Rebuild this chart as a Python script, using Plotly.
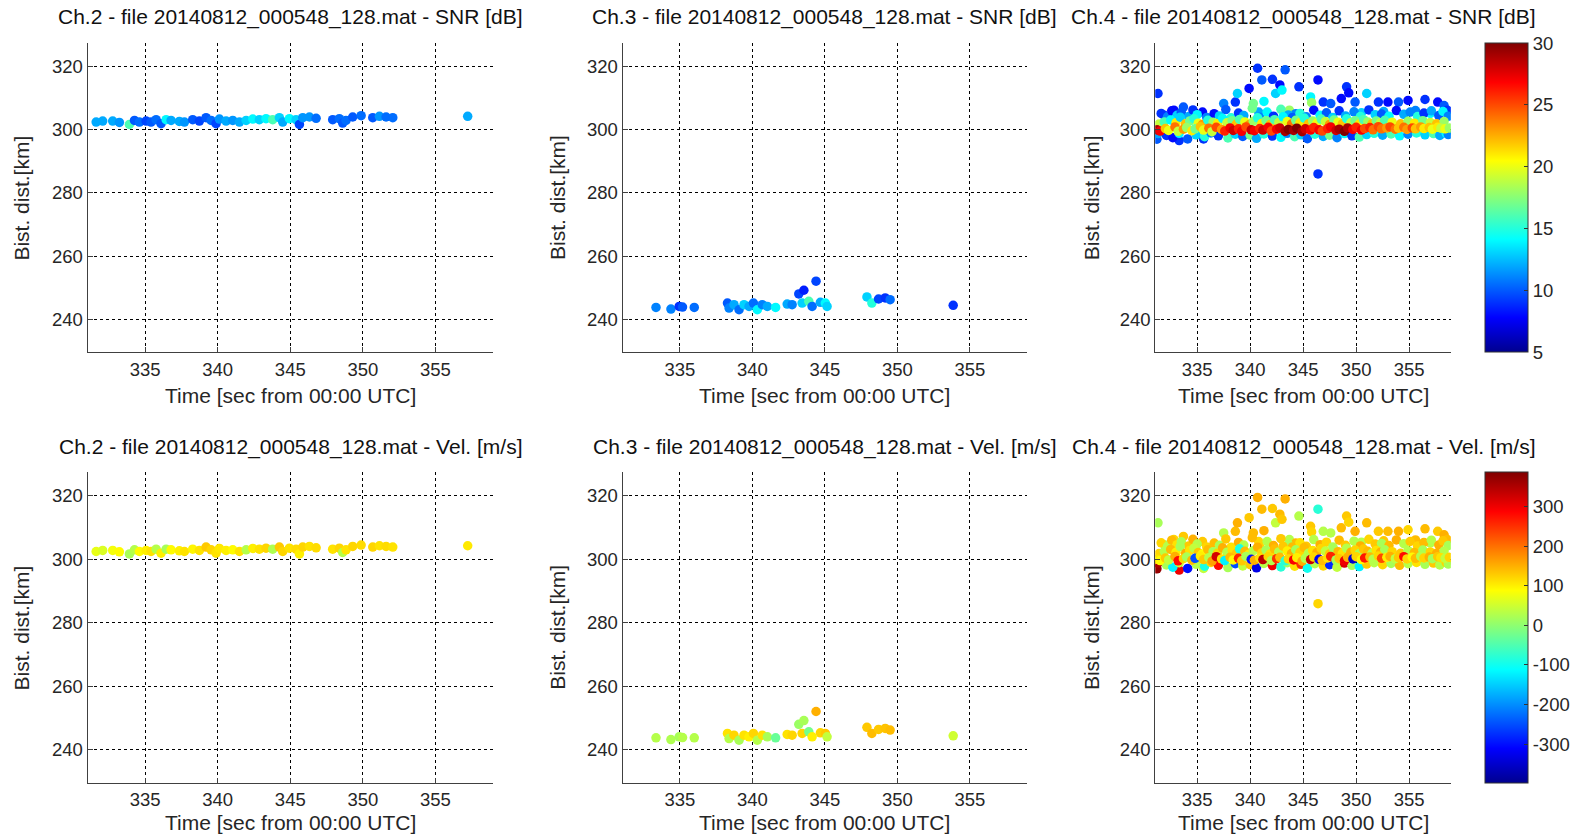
import plotly.graph_objects as go

W, H = 1575, 837

# ---------------- data ----------------
time_ticks = [335, 340, 345, 350, 355]
dist_ticks = [240, 260, 280, 300, 320]
snr_ticks = [5, 10, 15, 20, 25, 30]
vel_ticks = [-300, -200, -100, 0, 100, 200, 300]
file_name = "20140812_000548_128.mat"
channels = ["Ch.2", "Ch.3", "Ch.4"]

ch2_time = [331.63, 332.08, 332.77, 333.23, 333.92, 334.27, 334.61, 335.07, 335.41, 335.76,
            336.10, 336.45, 336.79, 337.36, 337.71, 338.28, 338.74, 339.20, 339.55, 339.89,
            340.12, 340.58, 341.04, 341.50, 341.96, 342.42, 342.87, 343.33, 343.79, 344.25,
            344.48, 344.94, 345.40, 345.63, 345.86, 346.32, 346.78, 347.92, 348.38, 348.61,
            348.84, 349.30, 349.88, 350.68, 351.14, 351.60, 352.06, 357.22]
ch2_dist = [302.45, 302.77, 302.77, 302.34, 301.70, 302.98, 302.45, 302.77, 302.45, 303.19,
            301.92, 303.19, 302.98, 302.66, 302.45, 303.19, 302.77, 303.83, 302.98, 301.92,
            303.41, 302.77, 302.98, 302.45, 302.98, 303.41, 303.19, 303.51, 303.19, 303.83,
            302.45, 303.51, 303.19, 301.70, 303.83, 304.05, 303.62, 303.19, 303.51, 302.13,
            302.98, 304.05, 304.47, 303.83, 304.26, 304.05, 303.83, 304.26]
ch2_snr = [12, 12, 12, 11.5, 16, 10, 10.5, 9.5, 10, 10.5,
           10, 14, 12, 12, 11.5, 10, 9.5, 10, 10.5, 9.5,
           11.5, 12, 11.5, 12, 13, 14, 13, 14, 16, 13,
           12, 14, 13, 9.5, 11.5, 11.5, 10.5, 10, 10.5, 10,
           10.5, 10, 10.5, 10, 11.5, 10.5, 10.5, 12]
ch2_vel = [70, 60, 80, 90, 20, 30, 90, 100, 110, 30,
           100, 20, 90, 100, 110, 95, 110, 130, 120, 110,
           105, 100, 90, 110, 30, 100, 110, 120, 25, 130,
           120, 110, 115, 100, 120, 110, 115, 110, 120, 30,
           110, 120, 115, 120, 110, 115, 110, 105]

ch3_time = [333.35, 334.38, 334.95, 335.18, 335.99, 338.28, 338.39, 338.73, 339.08, 339.42,
            339.77, 340.07, 340.34, 340.68, 341.03, 341.60, 342.40, 342.74, 343.20, 343.55,
            343.43, 343.89, 344.12, 344.39, 344.69, 345.03, 345.15, 347.90, 348.24, 348.70,
            349.16, 349.50, 353.85]
ch3_dist = [243.73, 243.19, 244.05, 243.83, 243.73, 245.11, 243.51, 244.58, 242.98, 244.58,
            244.05, 245.11, 242.98, 244.58, 244.05, 243.73, 244.79, 244.58, 247.99, 249.16,
            245.11, 245.64, 244.05, 252.03, 245.32, 245.11, 244.05, 247.03, 245.11, 246.39,
            246.71, 246.18, 244.37]
ch3_snr = [11, 11, 9, 10, 10.5, 10, 11, 12, 10.5, 13,
           12, 10.5, 14, 11, 12, 14, 12, 11, 9.5, 8.5,
           13, 16, 10.5, 9.5, 12, 14, 13, 13, 15, 9.5,
           9, 10.5, 9]
ch3_vel = [30, 25, 20, 30, 30, 110, 30, 120, 20, 110,
           100, 120, 30, 110, 20, -30, 110, 120, 10, 20,
           120, -20, 100, 150, 120, 130, 40, 130, 140, 130,
           135, 140, 50]

# Ch.4 - scattered detections well above/below the main band
ch4_out_time = [331.3, 331.2, 331.9, 332.8, 333.7, 333.3, 335.5, 335.6, 337.5, 338.6,
                338.8, 339.9, 340.7, 341.1, 342.1, 340.3, 341.3, 342.4, 342.8, 343.0,
                343.3, 343.7, 344.6, 345.7, 345.8, 346.4, 346.9, 347.6, 348.6, 349.1,
                349.3, 349.9, 351.0, 352.1, 353.0, 354.0, 354.9, 356.5, 357.7, 358.3,
                358.6, 346.4, 340.8, 344.3, 350.5, 352.6, 355.6, 357.0]
ch4_out_dist = [311.5, 297.0, 304.6, 306.2, 307.2, 296.6, 305.6, 297.1, 308.3, 308.8,
                311.5, 313.1, 319.5, 315.8, 316.0, 308.3, 309.0, 311.5, 314.2, 312.6,
                319.0, 306.2, 313.6, 310.4, 308.6, 315.8, 308.8, 308.3, 309.9, 313.6,
                311.7, 308.8, 311.5, 308.8, 308.8, 308.8, 309.3, 309.6, 308.8, 307.7,
                306.2, 286.0, 305.6, 305.1, 305.4, 305.8, 306.1, 305.2]
ch4_out_snr = [9, 10, 9, 8, 10, 9, 8, 9, 11, 9,
               13, 8, 9, 10, 9, 17, 14, 13, 8, 14,
               10, 18, 9, 14, 18, 8, 9, 10, 8, 9,
               8, 10, 13, 9, 8, 10, 8, 9, 8, 10,
               9, 9, 12, 11, 13, 12, 11, 14]
ch4_out_vel = [20, 370, 30, 120, 130, 300, 130, 40, 30, 140,
               150, 130, 150, 140, 130, 140, 150, 40, 140, 130,
               150, 30, 30, 130, 120, -80, 30, 30, 140, 130,
               120, 150, 140, 130, 140, 150, 120, 140, 130, 150,
               140, 120, 120, 140, 30, 130, 140, 30]

# Ch.4 - weaker echoes just above the band
ch4_mid_time = [331.6, 332.2, 332.6, 333.1, 333.5, 334.2, 334.6, 335.0, 335.9, 336.6,
                337.1, 337.7, 338.2, 338.9, 339.4, 340.2, 340.9, 341.6, 342.2, 342.9,
                343.6, 344.0, 344.7, 345.3, 346.0, 346.6, 347.2, 347.8, 348.4, 349.0,
                349.8, 350.4, 351.2, 351.8, 352.4, 353.1, 353.8, 354.5, 355.1, 355.8,
                356.4, 357.1, 357.8, 358.2, 358.7]
ch4_mid_dist = [305.2, 304.1, 306.0, 304.6, 305.5, 304.2, 306.3, 304.8, 303.9, 305.1,
                304.4, 306.4, 303.8, 305.3, 304.5, 306.8, 304.0, 305.6, 304.3, 306.5,
                304.7, 303.9, 305.2, 304.1, 306.2, 304.6, 305.4, 303.9, 306.0, 304.4,
                305.7, 304.2, 306.3, 304.8, 305.0, 304.3, 306.1, 304.9, 305.6, 304.2,
                305.3, 306.0, 304.5, 305.8, 304.3]
ch4_mid_snr = [9, 11, 8, 13, 10, 12, 9, 14, 11, 8,
               13, 10, 15, 9, 12, 17, 11, 14, 9, 16,
               12, 10, 15, 11, 8, 14, 10, 13, 9, 12,
               11, 15, 9, 13, 10, 14, 8, 12, 11, 15,
               9, 12, 10, 14, 11]
ch4_mid_vel = [120, 30, 140, 110, 20, 130, 150, 30, 120, 140,
               20, 130, 110, 150, 30, 140, 120, 30, 150, 130,
               20, 140, 110, 130, 30, 150, 120, 20, 140, 130,
               30, 150, 120, 130, 20, 140, 150, 30, 130, 120,
               140, 30, 150, 130, 20]

# Ch.4 - lower edge of the band
ch4_low_time = [331.3, 332.1, 332.7, 333.3, 334.1, 334.9, 335.7, 336.3, 337.0, 337.9,
                338.6, 339.3, 340.0, 340.6, 341.3, 342.1, 342.9, 343.5, 344.2, 344.8,
                345.4, 346.1, 346.9, 347.5, 348.2, 348.9, 349.6, 350.3, 351.0, 351.7,
                352.5, 353.3, 354.1, 354.9, 355.7, 356.5, 357.3, 357.9, 358.5, 358.7]
ch4_low_dist = [298.8, 298.2, 297.5, 298.9, 297.1, 298.4, 297.8, 299.0, 298.1, 297.4,
                298.6, 297.9, 298.3, 297.3, 298.7, 298.0, 297.6, 298.9, 297.8, 298.4,
                297.2, 298.6, 297.9, 298.3, 297.5, 298.8, 298.1, 297.7, 298.5, 298.9,
                298.3, 298.7, 298.1, 298.6, 299.0, 298.4, 298.8, 298.2, 298.9, 298.5]
ch4_low_snr = [12, 9, 8, 14, 10, 13, 15, 11, 9, 16,
               13, 10, 17, 12, 15, 9, 14, 11, 16, 13,
               10, 15, 12, 17, 11, 14, 9, 16, 13, 15,
               12, 16, 14, 11, 15, 13, 16, 12, 14, 11]
ch4_low_vel = [350, 20, -120, 40, -300, 30, -90, 120, 280, 20,
               -250, 40, 130, -330, 30, 300, -80, 20, 110, 250,
               -100, 30, 120, -280, 40, 320, 20, -120, 130, 30,
               120, 20, 140, 30, 110, 20, 130, 30, 120, 20]

# Ch.4 - upper edge of the band
ch4_up_time = [331.4, 331.9, 332.5, 333.0, 333.4, 333.9, 334.3, 334.7, 335.1, 335.5,
               336.0, 336.5, 336.9, 337.4, 337.8, 338.3, 338.7, 339.0, 339.5, 339.9,
               340.3, 340.7, 341.1, 341.5, 341.9, 342.3, 342.7, 343.1, 343.5, 343.9,
               344.3, 344.7, 345.1, 345.5, 345.9, 346.3, 346.7, 347.1, 347.5, 347.9,
               348.3, 348.7, 349.1, 349.5, 349.9, 350.3, 350.7, 351.1, 351.5, 351.9,
               352.3, 352.7, 353.4, 354.2, 354.9, 355.5, 356.3, 357.0, 357.6, 358.3]
ch4_up_dist = [301.8, 302.5, 303.1, 302.2, 304.0, 301.9, 302.8, 303.5, 302.1, 301.7,
               303.0, 302.4, 301.9, 303.6, 302.2, 302.9, 301.8, 303.3, 302.5, 301.6,
               302.7, 303.8, 302.0, 302.9, 301.7, 303.2, 302.3, 304.1, 302.6, 301.8,
               303.0, 302.2, 303.7, 301.9, 302.8, 302.1, 303.4, 302.6, 301.7, 303.1,
               302.4, 301.9, 303.5, 302.2, 302.9, 301.8, 303.2, 302.5, 301.9, 302.8,
               302.2, 303.0, 302.4, 301.9, 302.7, 302.1, 302.9, 302.3, 301.9, 302.6]
ch4_up_snr = [19, 16, 14, 21, 13, 22, 17, 15, 20, 23,
              15, 18, 21, 14, 19, 17, 22, 16, 20, 23,
              18, 15, 21, 17, 22, 16, 19, 14, 20, 24,
              17, 21, 15, 22, 18, 20, 16, 19, 23, 17,
              20, 22, 15, 19, 17, 21, 16, 18, 22, 17,
              19, 16, 20, 22, 18, 21, 17, 19, 22, 18]
ch4_up_vel = [120, 30, 140, 100, 20, 150, 110, 40, 130, 90,
              140, 20, 120, 150, 30, 110, 130, -90, 140, 100,
              30, 150, 120, 20, 110, 140, 30, 130, 100, 150,
              20, 120, 140, 30, 110, 150, 120, 40, 130, 20,
              140, 110, 30, 150, 120, 20, 130, 140, 30, 110,
              150, 20, 120, 130, 30, 140, 20, 120, 150, 30]

# Ch.4 - core of the band (strongest echoes)
ch4_core_time = [331.2, 331.5, 332.0, 332.3, 332.9, 333.2, 333.7, 334.0, 334.5, 334.8,
                 335.3, 335.6, 336.1, 336.4, 336.8, 337.3, 337.6, 338.1, 338.4, 338.9,
                 339.2, 339.6, 340.1, 340.4, 340.9, 341.2, 341.7, 342.0, 342.5, 342.8,
                 343.3, 343.6, 344.1, 344.4, 344.9, 345.2, 345.7, 346.0, 346.5, 346.8,
                 347.3, 347.6, 348.1, 348.4, 348.9, 349.2, 349.7, 350.0, 350.5, 350.8,
                 351.3, 351.6, 352.1, 352.4, 352.9, 353.2, 353.7, 354.0, 354.5, 354.8,
                 355.3, 355.6, 356.1, 356.4, 356.9, 357.2, 357.7, 358.0, 358.4, 358.8]
ch4_core_dist = [300.0, 299.6, 300.4, 299.8, 300.9, 299.5, 300.2, 300.7, 299.7, 300.3,
                 301.0, 299.9, 300.5, 299.4, 300.8, 300.1, 299.6, 300.6, 299.8, 300.3,
                 299.5, 300.9, 300.0, 299.7, 300.4, 299.9, 300.8, 299.6, 300.2, 300.6,
                 299.5, 300.1, 299.8, 300.5, 299.4, 300.3, 299.9, 300.7, 300.0, 299.6,
                 300.4, 300.9, 299.8, 300.2, 299.5, 300.6, 300.1, 300.8, 299.9, 300.4,
                 300.7, 300.0, 301.0, 300.3, 300.6, 300.9, 300.2, 300.5, 300.8, 300.1,
                 300.6, 300.3, 300.9, 300.4, 300.7, 300.2, 300.8, 300.5, 300.3, 300.6]
ch4_core_snr = [29, 27, 22, 20, 24, 19, 23, 18, 21, 17,
                22, 20, 24, 19, 25, 23, 26, 27, 28, 26,
                27, 25, 28, 27, 26, 28, 27, 25, 27, 28,
                29, 30, 29, 30, 29, 28, 27, 26, 27, 25,
                26, 27, 28, 29, 30, 29, 27, 26, 27, 25,
                26, 24, 25, 24, 23, 25, 24, 22, 24, 23,
                25, 22, 23, 21, 22, 20, 21, 19, 20, 18]
ch4_core_vel = [110, 90, 130, 40, 150, 280, 120, 20, 140, -250,
                100, 130, 30, 160, 320, 110, -120, 140, 90, 260,
                130, 20, -300, 150, 110, 340, 120, 30, 250, 140,
                -80, 120, 290, 100, 150, 30, 330, 120, -320, 140,
                110, 260, 20, 130, 300, 150, -350, 120, 90, 270,
                140, 30, 120, 230, 100, 150, 40, 130, 280, 120,
                90, 140, 30, 120, 150, 20, 130, 110, 40, 120]

ch4_time = ch4_out_time + ch4_mid_time + ch4_low_time + ch4_up_time + ch4_core_time
ch4_dist = ch4_out_dist + ch4_mid_dist + ch4_low_dist + ch4_up_dist + ch4_core_dist
ch4_snr = ch4_out_snr + ch4_mid_snr + ch4_low_snr + ch4_up_snr + ch4_core_snr
ch4_vel = ch4_out_vel + ch4_mid_vel + ch4_low_vel + ch4_up_vel + ch4_core_vel

# ---------------- layout geometry (pixels) ----------------
col_px = [(87.7, 493.3), (623.3, 1028.3), (1156.7, 1452.7)]
row_px = [(43.0, 352.3), (472.0, 783.0)]
x_range = [331.04, 358.94]
y_range = [229.5, 327.5]

jet = [[0.0, "rgb(0,0,143)"], [0.111, "rgb(0,0,255)"], [0.365, "rgb(0,255,255)"],
       [0.619, "rgb(255,255,0)"], [0.873, "rgb(255,0,0)"], [1.0, "rgb(128,0,0)"]]

FONT = "Liberation Sans, Arial, sans-serif"
TXT = "#262626"
TICK_SIZE = 18.5
LABEL_SIZE = 21

fig = go.Figure()

data_sets = [(ch2_time, ch2_dist, ch2_snr, ch2_vel),
             (ch3_time, ch3_dist, ch3_snr, ch3_vel),
             (ch4_time, ch4_dist, ch4_snr, ch4_vel)]

annotations = []
idx = 0
for r in range(2):
    for c in range(3):
        idx += 1
        t, d, snr, vel = data_sets[c]
        xa = "x" if idx == 1 else f"x{idx}"
        ya = "y" if idx == 1 else f"y{idx}"
        fig.add_trace(go.Scatter(
            x=t, y=d, mode="markers", xaxis=xa, yaxis=ya, showlegend=False,
            marker=dict(size=9.5, color=snr if r == 0 else vel,
                        coloraxis="coloraxis" if r == 0 else "coloraxis2",
                        line=dict(width=0)),
            hoverinfo="skip"))
        x0, x1 = col_px[c]
        y0, y1 = row_px[r]
        common = dict(showgrid=True, gridcolor="black", gridwidth=1, griddash="3px,3px",
                      showline=True, linecolor="#404040", linewidth=1, mirror=False,
                      ticks="inside", ticklen=5, tickcolor="#404040", zeroline=False,
                      tickfont=dict(family=FONT, size=TICK_SIZE, color=TXT))
        fig.update_layout(**{
            ("xaxis" if idx == 1 else f"xaxis{idx}"): dict(
                domain=[x0 / W, x1 / W], anchor=ya, range=x_range,
                tickvals=time_ticks, **common),
            ("yaxis" if idx == 1 else f"yaxis{idx}"): dict(
                domain=[1 - y1 / H, 1 - y0 / H], anchor=xa, range=y_range,
                tickvals=dist_ticks, **common),
        })
        qty = "SNR [dB]" if r == 0 else "Vel. [m/s]"
        title_y = 17 if r == 0 else 447
        annotations.append(dict(
            text=f"{channels[c]} - file {file_name} - {qty}", xref="paper", yref="paper",
            x=(x0 + x1) / 2 / W, y=1 - title_y / H, xanchor="center", yanchor="middle",
            showarrow=False, font=dict(family=FONT, size=LABEL_SIZE, color="#111111")))
        xl_y = 395 if r == 0 else 822
        annotations.append(dict(
            text="Time [sec from 00:00 UTC]", xref="paper", yref="paper",
            x=(x0 + x1) / 2 / W, y=1 - xl_y / H, xanchor="center", yanchor="middle",
            showarrow=False, font=dict(family=FONT, size=LABEL_SIZE, color=TXT)))
        yl_x = [22, 558, 1093][c]
        annotations.append(dict(
            text="Bist. dist.[km]", xref="paper", yref="paper", textangle=-90,
            x=yl_x / W, y=1 - (y0 + y1) / 2 / H, xanchor="center", yanchor="middle",
            showarrow=False, font=dict(family=FONT, size=LABEL_SIZE, color=TXT)))


def cbar(r, tickvals):
    y0, y1 = row_px[r]
    return dict(x=1487 / W, xanchor="left", y=1 - (y0 + y1) / 2 / H, yanchor="middle",
                lenmode="pixels", len=y1 - y0, thicknessmode="pixels", thickness=43,
                outlinecolor="#333333", outlinewidth=1, ticks="inside", ticklen=4,
                tickcolor="#333333", tickvals=tickvals,
                ticktext=[str(v) for v in tickvals], xpad=0, ypad=0,
                tickfont=dict(family=FONT, size=TICK_SIZE, color=TXT))


fig.update_layout(
    width=W, height=H, autosize=False,
    margin=dict(l=0, r=0, t=0, b=0),
    paper_bgcolor="white", plot_bgcolor="white",
    coloraxis=dict(colorscale=jet, cmin=5, cmax=30, colorbar=cbar(0, snr_ticks)),
    coloraxis2=dict(colorscale=jet, cmin=-398, cmax=387, colorbar=cbar(1, vel_ticks)),
    annotations=annotations,
)

fig.write_html("out.html")
